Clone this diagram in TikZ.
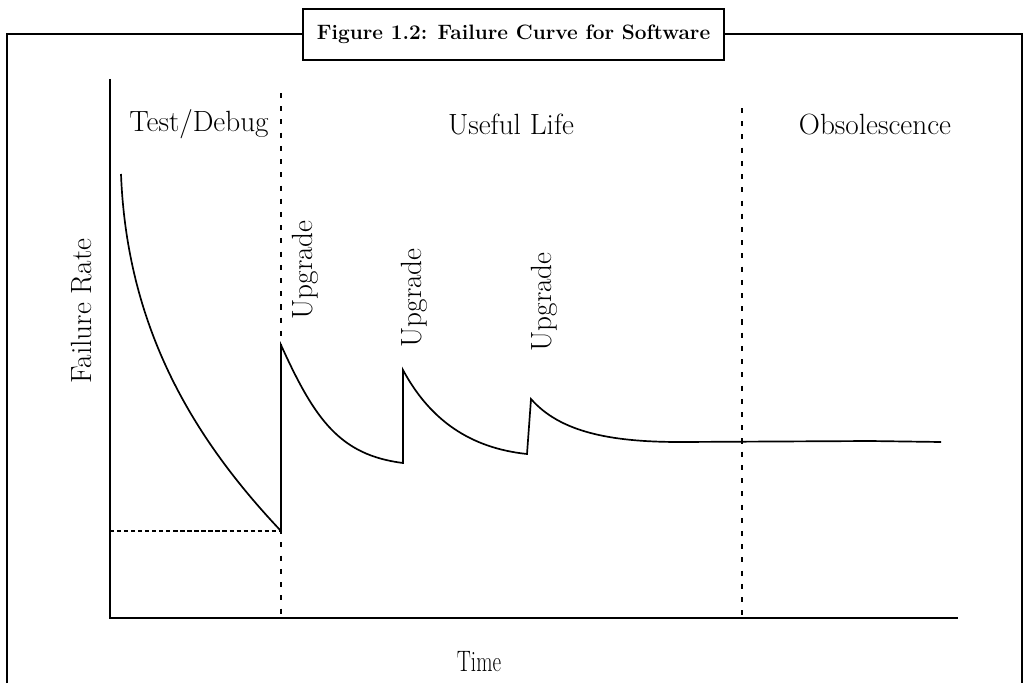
\documentclass[tikz,border=0pt]{standalone}
\usepackage{graphicx}
\usetikzlibrary{positioning}
\begin{document}
\begin{tikzpicture}[x=0.025cm, y=-0.025cm,
  lbl/.style={font=\fontsize{20.8}{25}\selectfont, inner sep=0pt},
  upg/.style={lbl, rotate=90},
  phase/.style={line width=2.1pt, dash pattern=on 3.6pt off 5.8pt}]
\useasboundingbox (0,0) rectangle (1024,683);
% outer frame, open at the bottom
\draw[line width=1.1pt] (7,683) -- (7,34) -- (1022,34) -- (1022,683);
\node[draw, fill=white, line width=1.4pt, minimum width=10.525cm, minimum height=1.275cm,
  font=\fontsize{14.8}{18}\bfseries\selectfont] (title) at (513.5,34.5) {Figure 1.2: Failure Curve for Software};
% axes
\draw[line width=1.4pt] (110,79) -- (110,618) -- (958,618);
% phase borders
\draw[phase] (281,93) -- (281,618);
\draw[phase] (742,108) -- (742,618);
\draw[line width=0.8pt, dash pattern=on 3pt off 2pt] (110,531) -- (281,531);
% failure curve
\draw[line width=1.2pt, line join=miter] (121,174) .. controls (127,330) and (195,440) .. (281,531)
  -- (281,345) .. controls (315,420) and (340,455) .. (403,463)
  -- (403,370) .. controls (430,420) and (470,448) .. (527,454)
  -- (531,399) .. controls (560,432) and (610,442) .. (680,442)
  -- (870,441) -- (941,442);
% labels
\node[lbl, anchor=base] (test) at (199,131) {Test/Debug};
\node[lbl, anchor=base] (useful) at (511,134) {Useful Life};
\node[lbl, anchor=base] (obsol) at (875,134) {Obsolescence};
\node[upg] (upgA) at (305,270) {Upgrade};
\node[upg] (upgB) at (414,298) {Upgrade};
\node[upg] (upgC) at (544,302) {Upgrade};
\node[upg] (rate) at (82,311) {Failure Rate};
\node[inner sep=0pt, font=\fontsize{15}{18}\selectfont] (time) at (479,662) {\scalebox{1}[1.4]{Time}};
\end{tikzpicture}
\end{document}
